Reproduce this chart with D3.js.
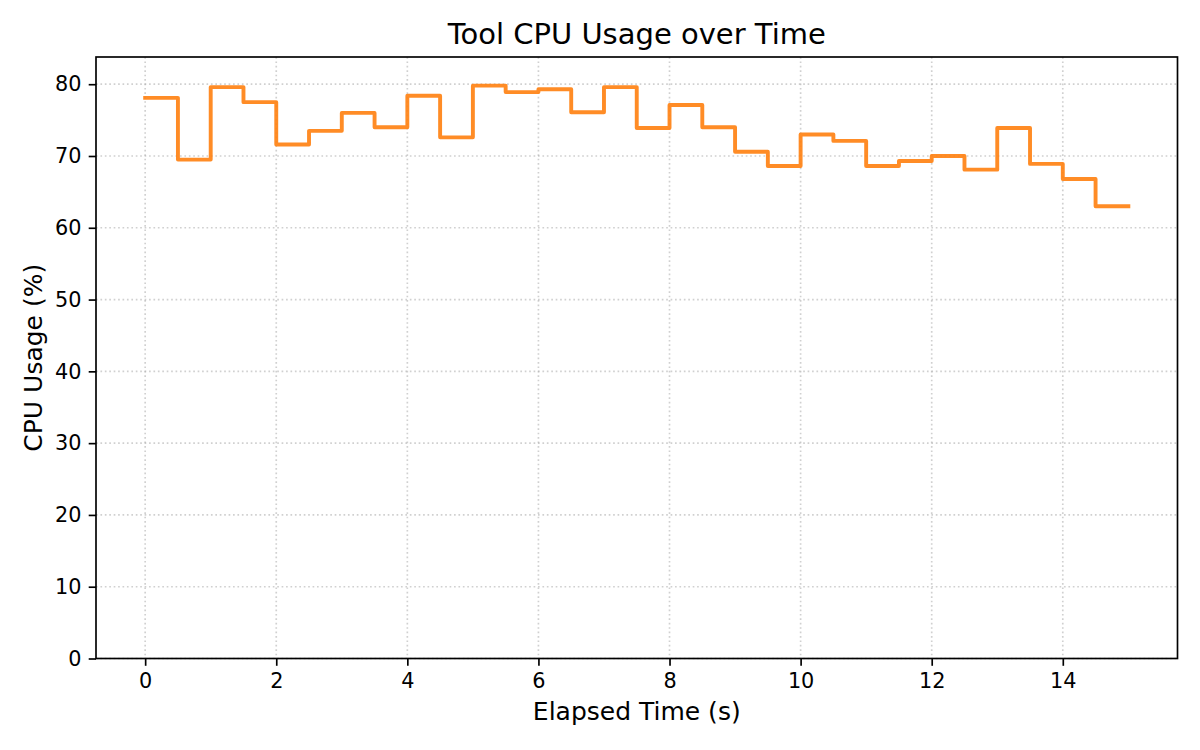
<!DOCTYPE html>
<html>
<head>
<meta charset="utf-8">
<script src="https://cdn.jsdelivr.net/npm/d3@7"></script>
<style>
  html, body { margin: 0; padding: 0; background: #fff; }
  text { font-family: "DejaVu Sans", sans-serif; }
</style>
</head>
<body>
<script>
// sample edges (s) and CPU usage held over each interval (%)
const times = [0, 0.5, 1, 1.5, 2, 2.5, 3, 3.5, 4, 4.5, 5, 5.5, 6, 6.5, 7, 7.5,
               8, 8.5, 9, 9.5, 10, 10.5, 11, 11.5, 12, 12.5, 13, 13.5, 14, 14.5, 15];
const usage = [78.1, 69.5, 79.6, 77.5, 71.6, 73.5, 76.0, 74.0, 78.4, 72.6,
               79.8, 78.9, 79.3, 76.1, 79.6, 73.9, 77.1, 74.0, 70.6, 68.6,
               73.0, 72.1, 68.6, 69.3, 70.0, 68.1, 73.9, 68.9, 66.8, 63.0];
const xTicks = [0, 2, 4, 6, 8, 10, 12, 14];
const yTicks = [0, 10, 20, 30, 40, 50, 60, 70, 80];

const W = 1200, H = 750;
const pLeft = 96, pRight = 1177.5, pTop = 57, pBottom = 658.5;

const svg = d3.select("body").append("svg")
  .attr("width", W).attr("height", H);

const x = d3.scaleLinear().domain([-0.75, 15.75]).range([pLeft, pRight]);
const y = d3.scaleLinear().domain([0, d3.max(usage) * 1.05]).range([pBottom, pTop]);

// grid
const grid = svg.append("g")
  .attr("stroke", "#b0b0b0").attr("stroke-opacity", 0.6)
  .attr("stroke-width", 1.67).attr("stroke-dasharray", "1.67,2.75");
grid.selectAll("line.gx").data(xTicks).enter().append("line")
  .attr("x1", d => x(d)).attr("x2", d => x(d)).attr("y1", pTop).attr("y2", pBottom);
grid.selectAll("line.gy").data(yTicks).enter().append("line")
  .attr("x1", pLeft).attr("x2", pRight).attr("y1", d => y(d)).attr("y2", d => y(d));

// step line (stairs)
const pts = times.map((t, i) => [t, usage[Math.min(i, usage.length - 1)]]);
const line = d3.line().x(d => x(d[0])).y(d => y(d[1])).curve(d3.curveStepAfter);
svg.append("path")
  .datum(pts)
  .attr("d", line)
  .attr("fill", "none")
  .attr("stroke", "#ff7f0e")
  .attr("stroke-opacity", 0.9)
  .attr("stroke-width", 3.9)
  .attr("stroke-linejoin", "round")
  .attr("stroke-linecap", "square");

// axes
const xAxis = svg.append("g")
  .attr("transform", `translate(0,${pBottom})`)
  .call(d3.axisBottom(x).tickValues(xTicks).tickSize(7.3).tickPadding(7.3).tickFormat(d3.format("d")));
const yAxis = svg.append("g")
  .attr("transform", `translate(${pLeft},0)`)
  .call(d3.axisLeft(y).tickValues(yTicks).tickSize(7.3).tickPadding(7.3).tickFormat(d3.format("d")));

[xAxis, yAxis].forEach(a => {
  a.select(".domain").remove();
  a.selectAll(".tick line").attr("stroke", "#000").attr("stroke-width", 1.67);
  a.selectAll(".tick text").attr("fill", "#000")
    .style("font-size", "20.8px").style("font-family", "DejaVu Sans");
});

// spines
svg.append("rect")
  .attr("x", pLeft).attr("y", pTop)
  .attr("width", pRight - pLeft).attr("height", pBottom - pTop)
  .attr("fill", "none").attr("stroke", "#000").attr("stroke-width", 1.67);

// labels
svg.append("text")
  .attr("x", (pLeft + pRight) / 2).attr("y", 43.5)
  .attr("text-anchor", "middle")
  .style("font-size", "29px")
  .text("Tool CPU Usage over Time");

svg.append("text")
  .attr("x", (pLeft + pRight) / 2).attr("y", 720)
  .attr("text-anchor", "middle")
  .style("font-size", "25px")
  .text("Elapsed Time (s)");

svg.append("text")
  .attr("transform", `translate(42,${(pTop + pBottom) / 2}) rotate(-90)`)
  .attr("text-anchor", "middle")
  .style("font-size", "25px")
  .text("CPU Usage (%)");
</script>
</body>
</html>
